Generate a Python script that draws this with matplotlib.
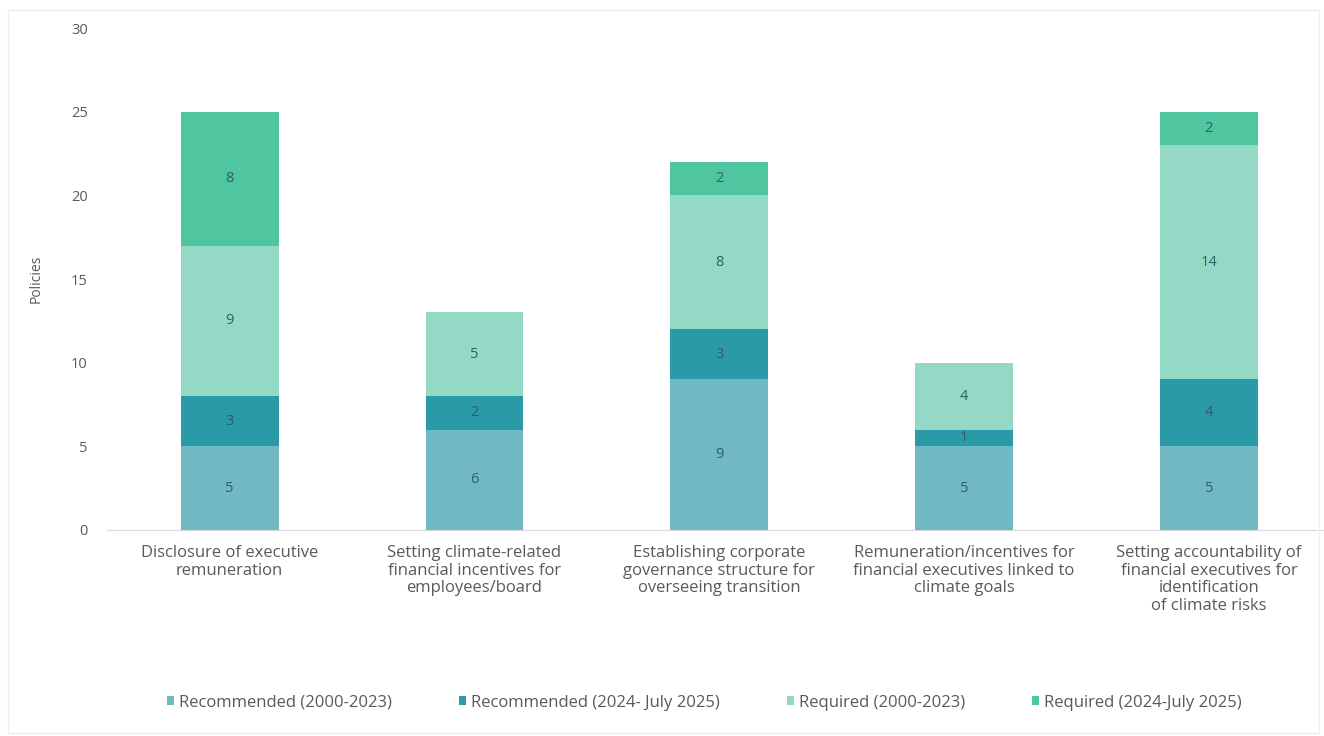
import numpy as np
import matplotlib.pyplot as plt
from matplotlib.patches import Rectangle

plt.rcParams['font.family'] = ['Open Sans', 'DejaVu Sans']

categories = [
    "Disclosure of executive\nremuneration",
    "Setting climate-related\nfinancial incentives for\nemployees/board",
    "Establishing corporate\ngovernance structure for\noverseeing transition",
    "Remuneration/incentives for\nfinancial executives linked to\nclimate goals",
    "Setting accountability of\nfinancial executives for\nidentification\nof climate risks",
]
series_names = [
    "Recommended (2000-2023)",
    "Recommended (2024- July 2025)",
    "Required (2000-2023)",
    "Required (2024-July 2025)",
]
rec_old = [5, 6, 9, 5, 5]
rec_new = [3, 2, 3, 1, 4]
req_old = [9, 5, 8, 4, 14]
req_new = [8, 0, 2, 0, 2]
colors = ["#70b9c3", "#2a9aa9", "#93d9c5", "#4fc5a0"]
y_ticks = [0, 5, 10, 15, 20, 25, 30]

fig = plt.figure(figsize=(13.24, 7.36), dpi=100)
fig.patches.append(Rectangle((0.006, 0.004), 0.99, 0.982, transform=fig.transFigure,
                             fill=False, edgecolor="#eeeeee", linewidth=1))
ax = fig.add_axes([0.081, 0.2799, 0.919, 0.682])

x = np.arange(len(categories))
bottom = np.zeros(len(categories))
for name, vals, col in zip(series_names, [rec_old, rec_new, req_old, req_new], colors):
    vals = np.array(vals, dtype=float)
    ax.bar(x, vals, width=0.4, bottom=bottom, color=col, label=name)
    for xi, b, v in zip(x, bottom, vals):
        if v > 0:
            ax.text(xi, b + v / 2, f"{int(v)}", ha="center", va="center",
                    fontsize=10.5, color="#2f5f68")
    bottom += vals

ax.set_xlim(-0.5, 4.47)
ax.set_ylim(0, 30)
ax.set_yticks(y_ticks)
ax.set_xticks(x)
ax.set_xticklabels(categories, fontsize=12, color="#595959", linespacing=1.12)
ax.tick_params(axis="y", length=0, labelsize=10.5, labelcolor="#595959", pad=14)
ax.tick_params(axis="x", length=0, pad=11)
for s in ["top", "right", "left"]:
    ax.spines[s].set_visible(False)
ax.spines["bottom"].set_color("#d9d9d9")
ax.set_ylabel("Policies", fontsize=10, color="#595959", labelpad=20)

fig.legend(loc="lower center", bbox_to_anchor=(0.532, 0.014), ncol=4, frameon=False,
           fontsize=12, handlelength=0.45, handleheight=0.45, handletextpad=0.3,
           columnspacing=4.0, labelcolor="#595959")

fig.savefig("out.png", dpi=100)
